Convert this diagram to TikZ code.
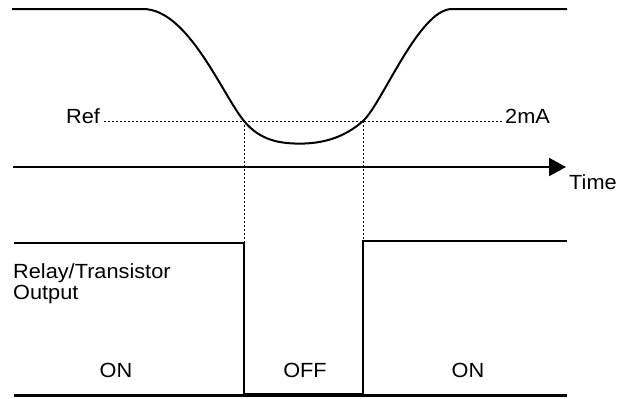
\documentclass[tikz,border=0pt]{standalone}
\usepackage{fontspec}
\setmainfont{Liberation Sans}[FakeStretch=1.06]
\usetikzlibrary{arrows.meta,positioning}

\begin{document}
\begin{tikzpicture}[
  x=1pt, y=-1pt,
  every node/.style={font=\fontsize{20.5}{21}\selectfont, inner sep=0pt},
  signal/.style={draw, line width=2pt, line join=round},
  output/.style={draw, line width=2.8pt},
  guide/.style={draw, line width=1pt, dash pattern=on 2pt off 2pt},
  axis/.style={draw, line width=2pt, -{Triangle[length=17pt, width=18pt]}}
]
\useasboundingbox (0,0) rectangle (624,399);
\coordinate (s0) at (12,9);
\coordinate (s1) at (143,9);
\coordinate (x1) at (244,121);
\coordinate (lo) at (300,143.6);
\coordinate (x2) at (363,121);
\coordinate (s2) at (452,9);
\coordinate (s3) at (567,9);
\draw[signal] (s0) -- (s1) .. controls (188,9) and (222,94) .. (x1)
  .. controls (260,140.5) and (280,143.6) .. (lo)
  .. controls (322,143.6) and (344,138) .. (x2)
  .. controls (382,104) and (419,9) .. (s2) -- (s3);

\node[anchor=base west] (ref) at (66,123) {Ref};
\node[anchor=base west] (ma) at (505,123) {2mA};
\draw[guide] ([xshift=4pt]ref.east |- x1) -- ([xshift=-3pt]ma.west |- x1);

\coordinate (t0) at (13,167);
\coordinate (t1) at (566,167);
\draw[axis] (t0) -- (t1);
\node[anchor=base west] (time) at (569,189) {Time};

\coordinate (on0) at (14,243);
\coordinate (fall) at (244,243);
\coordinate (fallb) at (244,394);
\coordinate (riseb) at (363,394);
\coordinate (rise) at (363,241);
\coordinate (on1) at (567,241);
\coordinate (b0) at (14,395.5);
\coordinate (b1) at (567,395.5);
\draw[output] (on0) -- (fall) -- (fallb) -- (riseb) -- (rise) -- (on1);
\draw[output] (b0) -- (b1);
\draw[guide] (x1) -- (fall);
\draw[guide] (x2) -- (rise);

\node[anchor=north west, align=left] (relay) at (13,263.5) {Relay/Transistor\\Output};
\node[anchor=base] (onl) at (116,377) {ON};
\node[anchor=base] (off) at (305,377) {OFF};
\node[anchor=base] (onr) at (468,377) {ON};
\end{tikzpicture}
\end{document}
